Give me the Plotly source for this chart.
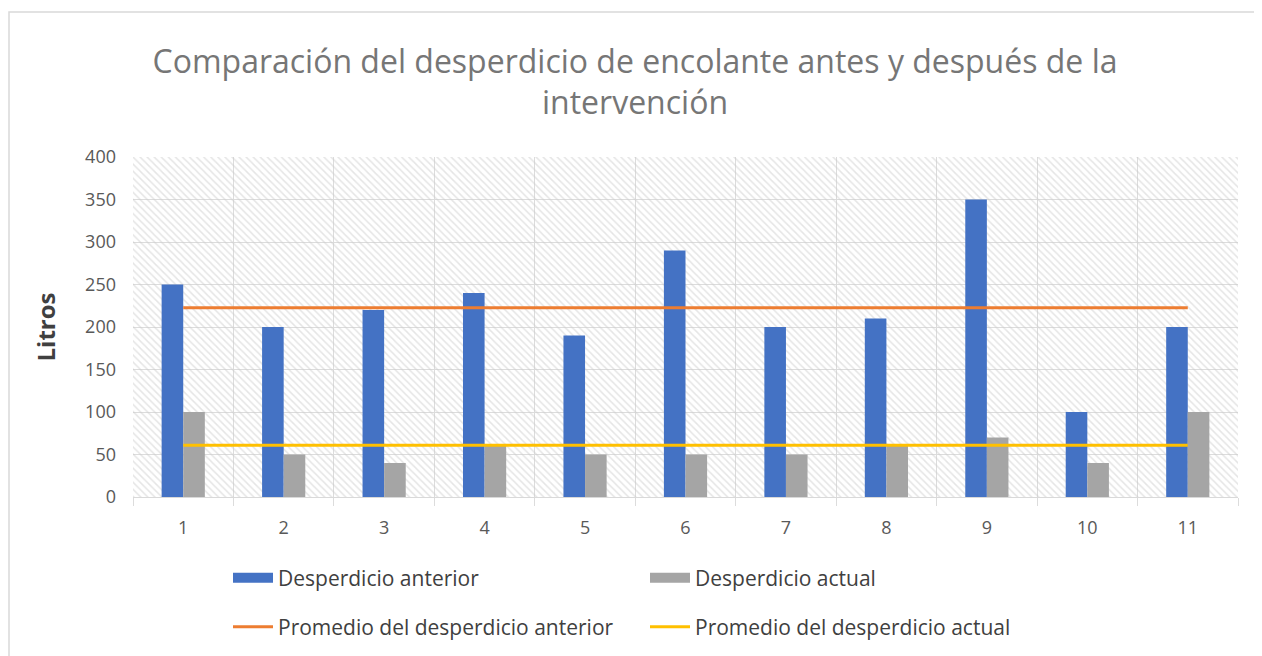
import plotly.graph_objects as go

categories = [1, 2, 3, 4, 5, 6, 7, 8, 9, 10, 11]
desperdicio_anterior = [250, 200, 220, 240, 190, 290, 200, 210, 350, 100, 200]
desperdicio_actual = [100, 50, 40, 60, 50, 50, 50, 60, 70, 40, 100]
promedio_anterior = [222.7, 222.7, 222.7, 222.7, 222.7, 222.7, 222.7, 222.7, 222.7, 222.7, 222.7]
promedio_actual = [60.9, 60.9, 60.9, 60.9, 60.9, 60.9, 60.9, 60.9, 60.9, 60.9, 60.9]
y_ticks = [0, 50, 100, 150, 200, 250, 300, 350, 400]

OFF = 8  # page body margin
W, H = 1262 - OFF, 656 - OFF
# plot area in page pixels
L, R, T, B = 133, 1238, 157, 497
l, r, t, b = L - OFF, R - OFF, T - OFF, B - OFF

def px_x(p):  # page px -> paper x
    return (p - L) / (R - L)

def px_y(p):  # page px -> paper y
    return (B - p) / (B - T)

x_lo = categories[0] - 0.5
x_hi = categories[-1] + 0.5
y_hi = y_ticks[-1]

font_family = "Open Sans, Noto Sans, DejaVu Sans, sans-serif"
BLUE, GRAY, ORANGE, YELLOW = "#4472C4", "#A5A5A5", "#ED7D31", "#FFC000"

fig = go.Figure()

# hatched plot-area background (main axes, beneath the overlay with the data)
fig.add_trace(go.Scatter(
    x=[x_lo, x_hi, x_hi, x_lo, x_lo], y=[0, 0, y_hi, y_hi, 0],
    mode="lines", line=dict(width=0), fill="toself",
    fillcolor="rgba(0,0,0,0)",
    fillpattern=dict(shape="\\", fgcolor="#cccccc", bgcolor="rgba(0,0,0,0)",
                     size=5, solidity=0.3),
    showlegend=False, hoverinfo="skip"))

fig.add_trace(go.Bar(x=categories, y=desperdicio_anterior, name="Desperdicio anterior",
                     marker=dict(color=BLUE, line=dict(width=0)),
                     xaxis="x2", yaxis="y2", legendgroup="ant", showlegend=False))
fig.add_trace(go.Bar(x=categories, y=desperdicio_actual, name="Desperdicio actual",
                     marker=dict(color=GRAY, line=dict(width=0)),
                     xaxis="x2", yaxis="y2", legendgroup="act", showlegend=False))
# legend keys drawn as wide blocks, like the original
fig.add_trace(go.Scatter(x=[None], y=[None], mode="lines", name="Desperdicio anterior",
                         line=dict(color=BLUE, width=12), xaxis="x2", yaxis="y2",
                         legendgroup="ant", legend="legend", hoverinfo="skip"))
fig.add_trace(go.Scatter(x=[None], y=[None], mode="lines", name="Desperdicio actual",
                         line=dict(color=GRAY, width=12), xaxis="x2", yaxis="y2",
                         legendgroup="act", legend="legend", hoverinfo="skip"))
fig.add_trace(go.Scatter(x=categories, y=promedio_anterior, mode="lines",
                         name="Promedio del desperdicio anterior",
                         line=dict(color=ORANGE, width=3),
                         xaxis="x2", yaxis="y2", legend="legend2"))
fig.add_trace(go.Scatter(x=categories, y=promedio_actual, mode="lines",
                         name="Promedio del desperdicio actual",
                         line=dict(color=YELLOW, width=3),
                         xaxis="x2", yaxis="y2", legend="legend2"))

legend_common = dict(orientation="h", x=px_x(228), xanchor="left", yanchor="middle",
                     entrywidth=362, entrywidthmode="pixels",
                     font=dict(size=21, color="#404040", family=font_family),
                     traceorder="normal", itemwidth=40, bgcolor="rgba(0,0,0,0)")

fig.update_layout(
    width=W, height=H,
    margin=dict(l=l, r=W - r, t=t, b=H - b, pad=0, autoexpand=False),
    paper_bgcolor="white", plot_bgcolor="white",
    font=dict(family=font_family, color="#595959", size=18),
    title=dict(text="Comparación del desperdicio de encolante antes y después de la<br>intervención",
               x=0.5, xanchor="center", y=1 - (72.5 - OFF) / H, yanchor="middle",
               font=dict(size=32, color="#767676", family=font_family)),
    barmode="group", bargap=0.57, bargroupgap=0,
    showlegend=True,
    legend=dict(legend_common, y=px_y(578)),
    legend2=dict(legend_common, y=px_y(627)),
    xaxis=dict(range=[x_lo, x_hi], tickmode="array", tickvals=categories,
               ticktext=[str(c) for c in categories], showgrid=False, zeroline=False,
               showline=True, linecolor="#d9d9d9", linewidth=1,
               ticks="", ticklabelstandoff=14, automargin=False,
               tickfont=dict(size=18, color="#595959"),
               minor=dict(tick0=0.5, dtick=1, showgrid=True, gridcolor="#dcdcdc",
                          gridwidth=1, ticks="outside", ticklen=8, tickcolor="#dcdcdc"),
               fixedrange=True),
    yaxis=dict(range=[0, y_hi], tickmode="array", tickvals=y_ticks,
               showgrid=True, gridcolor="#dcdcdc", gridwidth=1, zeroline=False,
               showline=False, ticks="", ticklabelstandoff=16, automargin=False,
               tickfont=dict(size=18, color="#595959"),
               title=dict(text="<b>Litros</b>", standoff=22,
                          font=dict(size=24, color="#404040", family=font_family)),
               fixedrange=True),
    xaxis2=dict(overlaying="x", range=[x_lo, x_hi], visible=False, fixedrange=True),
    yaxis2=dict(overlaying="y", range=[0, y_hi], visible=False, fixedrange=True),
)

# outer chart frame
fig.add_shape(type="rect", xref="paper", yref="paper",
              x0=px_x(9), x1=px_x(1260), y0=px_y(680), y1=px_y(12),
              line=dict(color="#d9d9d9", width=1.5), fillcolor="rgba(0,0,0,0)", layer="below")

fig.write_html("out.html")
